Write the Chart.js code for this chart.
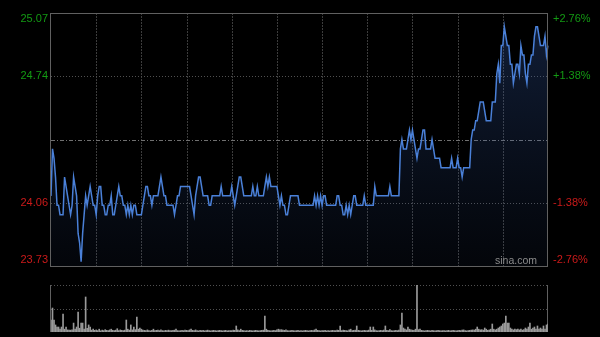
<!DOCTYPE html>
<html>
<head>
<meta charset="utf-8">
<script src="https://cdn.jsdelivr.net/npm/chart.js@4.4.1/dist/chart.umd.min.js"></script>
<style>
html, body { margin: 0; padding: 0; background: #000; }
#wrap { position: relative; width: 600px; height: 337px; background: #000; overflow: hidden; }
#priceChart { position: absolute; left: 0; top: 0; }
#volChart { position: absolute; left: 0; top: 275px; }
</style>
</head>
<body>
<div id="wrap">
  <canvas id="priceChart" width="600" height="275"></canvas>
  <canvas id="volChart" width="600" height="62"></canvas>
</div>
<script>
// HK intraday, previous close and +/- band shown on the axes
var prevClose = 24.40
var band = 0.0276

// trading sessions: first minute label, number of minutes
var sessions = [['09:30', 151], ['13:01', 180]]

// minute prices, morning 09:30-12:00
var priceAM = [
  24.10, 24.35, 24.30, 24.20, 24.05, 24.05, 24.00, 24.00, 24.00, 24.20,
  24.15, 24.10, 24.05, 24.00, 24.05, 24.20, 24.15, 24.10, 23.90, 23.85,
  23.75, 23.90, 24.00, 24.10, 24.05, 24.10, 24.15, 24.10, 24.05, 24.05,
  24.00, 24.10, 24.15, 24.15, 24.05, 24.05, 24.00, 24.00, 24.05, 24.05,
  24.10, 24.00, 24.00, 24.05, 24.10, 24.15, 24.10, 24.10, 24.05, 24.05,
  24.00, 24.05, 24.00, 24.05, 24.00, 24.05, 24.05, 24.00, 24.00, 24.00,
  24.00, 24.05, 24.10, 24.15, 24.15, 24.10, 24.10, 24.05, 24.10, 24.10,
  24.10, 24.10, 24.15, 24.20, 24.15, 24.10, 24.10, 24.05, 24.05, 24.05,
  24.05, 24.05, 24.00, 24.05, 24.10, 24.10, 24.15, 24.15, 24.15, 24.15,
  24.15, 24.15, 24.15, 24.10, 24.05, 24.00, 24.10, 24.15, 24.20, 24.20,
  24.15, 24.10, 24.10, 24.10, 24.10, 24.05, 24.05, 24.10, 24.10, 24.10,
  24.10, 24.10, 24.10, 24.15, 24.10, 24.10, 24.10, 24.10, 24.10, 24.10,
  24.15, 24.10, 24.05, 24.10, 24.15, 24.20, 24.20, 24.15, 24.10, 24.10,
  24.10, 24.10, 24.10, 24.10, 24.15, 24.10, 24.10, 24.15, 24.10, 24.10,
  24.10, 24.10, 24.15, 24.20, 24.15, 24.20, 24.15, 24.15, 24.15, 24.15,
  24.15
]

// minute prices, afternoon 13:01-16:00
var pricePM = [
  24.10, 24.05, 24.10, 24.05, 24.05, 24.00, 24.00, 24.05, 24.10, 24.10,
  24.10, 24.10, 24.10, 24.10, 24.05, 24.05, 24.05, 24.05, 24.05, 24.05,
  24.05, 24.05, 24.05, 24.05, 24.10, 24.05, 24.10, 24.05, 24.10, 24.05,
  24.10, 24.10, 24.05, 24.05, 24.05, 24.05, 24.05, 24.05, 24.05, 24.10,
  24.10, 24.05, 24.05, 24.00, 24.00, 24.05, 24.00, 24.05, 24.00, 24.05,
  24.10, 24.10, 24.05, 24.05, 24.05, 24.05, 24.05, 24.10, 24.05, 24.05,
  24.05, 24.05, 24.05, 24.05, 24.15, 24.10, 24.10, 24.10, 24.10, 24.10,
  24.10, 24.10, 24.10, 24.10, 24.15, 24.10, 24.10, 24.10, 24.10, 24.10,
  24.10, 24.35, 24.40, 24.35, 24.35, 24.35, 24.40, 24.45, 24.40, 24.45,
  24.40, 24.35, 24.30, 24.35, 24.35, 24.40, 24.45, 24.45, 24.35, 24.35,
  24.35, 24.35, 24.40, 24.35, 24.30, 24.30, 24.30, 24.30, 24.25, 24.25,
  24.25, 24.25, 24.25, 24.25, 24.25, 24.30, 24.25, 24.25, 24.25, 24.30,
  24.25, 24.25, 24.20, 24.25, 24.25, 24.25, 24.25, 24.25, 24.40, 24.45,
  24.45, 24.50, 24.50, 24.55, 24.60, 24.60, 24.60, 24.55, 24.50, 24.50,
  24.50, 24.50, 24.60, 24.60, 24.60, 24.75, 24.80, 24.70, 24.90, 24.90,
  25.00, 24.95, 24.90, 24.90, 24.80, 24.80, 24.70, 24.75, 24.80, 24.80,
  24.75, 24.90, 24.85, 24.85, 24.75, 24.70, 24.80, 24.80, 24.85, 24.85,
  24.95, 25.00, 25.00, 24.95, 24.90, 24.90, 24.90, 24.95, 24.85, 24.90
]

// minute volumes (relative units), morning
var volAM = [
  255, 510, 255, 150, 106, 106, 60, 106, 383, 60,
  106, 45, 40, 40, 45, 190, 60, 106, 425, 80,
  190, 190, 60, 745, 80, 150, 106, 40, 60, 35,
  45, 30, 60, 25, 40, 30, 50, 35, 30, 45,
  60, 35, 30, 40, 70, 30, 45, 35, 30, 40,
  255, 60, 40, 150, 45, 106, 50, 320, 60, 85,
  60, 40, 35, 30, 45, 30, 25, 35, 60, 30,
  35, 40, 30, 45, 30, 25, 35, 30, 40, 30,
  30, 35, 40, 60, 30, 25, 30, 35, 30, 40,
  35, 30, 45, 60, 35, 30, 45, 30, 25, 35,
  30, 35, 25, 30, 40, 30, 25, 30, 35, 30,
  25, 30, 35, 30, 25, 30, 35, 25, 30, 30,
  30, 40, 35, 128, 45, 30, 60, 35, 30, 25,
  30, 25, 35, 30, 25, 30, 35, 30, 25, 30,
  35, 40, 340, 60, 35, 30, 25, 30, 35, 30,
  45
]

// minute volumes, afternoon
var volPM = [
  60, 45, 50, 40, 35, 45, 30, 25, 30, 35,
  30, 25, 30, 35, 25, 30, 25, 30, 35, 30,
  25, 30, 35, 30, 45, 60, 35, 30, 25, 30,
  30, 35, 25, 30, 25, 30, 35, 30, 30, 40,
  35, 128, 30, 40, 35, 30, 25, 45, 60, 30,
  35, 40, 128, 35, 30, 25, 30, 35, 30, 30,
  40, 106, 35, 106, 45, 30, 25, 30, 35, 30,
  40, 128, 35, 30, 50, 30, 25, 30, 35, 30,
  40, 150, 404, 85, 60, 45, 106, 60, 45, 40,
  35, 60, 1000, 50, 60, 35, 30, 25, 30, 35,
  30, 25, 35, 30, 25, 30, 35, 30, 25, 30,
  30, 25, 30, 35, 25, 30, 35, 30, 25, 30,
  35, 30, 40, 45, 30, 25, 30, 35, 40, 45,
  40, 60, 106, 60, 45, 50, 40, 85, 60, 35,
  45, 60, 170, 60, 45, 60, 85, 106, 128, 170,
  190, 340, 190, 190, 85, 60, 45, 60, 50, 60,
  45, 60, 40, 50, 85, 60, 106, 190, 60, 85,
  106, 60, 128, 60, 85, 60, 128, 60, 150, 170
]

var prices = priceAM.concat(pricePM)
var volumes = volAM.concat(volPM)
var times = makeTimes()

var yMax = prevClose * (1 + band)
var yMin = prevClose * (1 - band)
var levels = [yMax, prevClose * (1 + band / 2), prevClose, prevClose * (1 - band / 2), yMin]

function makeTimes() {
    var out = []
    sessions.forEach(function (s) {
        var h = parseInt(s[0].slice(0, 2)), m = parseInt(s[0].slice(3))
        for (var k = 0; k < s[1]; k++) {
            out.push((h < 10 ? '0' : '') + h + ':' + (m < 10 ? '0' : '') + m)
            m++
            if (m == 60) { m = 0; h++ }
        }
    })
    return out
}

function hline(ctx, x1, x2, y) {
    ctx.beginPath(); ctx.moveTo(x1, y); ctx.lineTo(x2, y); ctx.stroke()
}
function vline(ctx, x, y1, y2) {
    ctx.beginPath(); ctx.moveTo(x, y1); ctx.lineTo(x, y2); ctx.stroke()
}

var priceFrame = {
    id: 'priceFrame',
    beforeDatasetsDraw: function (chart) {
        var ctx = chart.ctx, a = chart.chartArea, xs = chart.scales.x, ys = chart.scales.y
        ctx.save()
        ctx.lineWidth = 1
        // half-hour lines
        ctx.strokeStyle = '#3c3c3c'
        ctx.setLineDash([2, 1])
        for (var i = 30; i < times.length - 1; i += 30) {
            var x = Math.round(xs.getPixelForValue(i)) + 0.5
            vline(ctx, x, a.top, a.bottom)
        }
        // price levels
        for (var k = 1; k < levels.length - 1; k++) {
            var y = Math.round(ys.getPixelForValue(levels[k])) + 0.5
            if (k == 2) {
                ctx.strokeStyle = '#707070'
                ctx.setLineDash([4, 2, 1, 2])
            } else {
                ctx.strokeStyle = '#505050'
                ctx.setLineDash([1, 2])
            }
            hline(ctx, a.left, a.right, y)
        }
        ctx.restore()
    },
    afterDraw: function (chart) {
        var ctx = chart.ctx, a = chart.chartArea, ys = chart.scales.y
        ctx.save()
        ctx.strokeStyle = '#606060'
        ctx.lineWidth = 1
        ctx.setLineDash([])
        ctx.strokeRect(a.left - 0.5, a.top + 0.5, a.right - a.left, a.bottom - a.top)

        ctx.font = '11px "Liberation Sans", Arial, sans-serif'
        ctx.textBaseline = 'middle'
        levels.forEach(function (v, k) {
            if (k == 2) return
            var y = ys.getPixelForValue(v)
            if (k == 0) y = a.top + 6
            if (k == levels.length - 1) y = a.bottom - 6
            ctx.fillStyle = v > prevClose ? '#139a13' : '#cc1a1a'
            ctx.textAlign = 'right'
            ctx.fillText(v.toFixed(2), a.left - 3, y)
            var pct = (v / prevClose - 1) * 100
            ctx.textAlign = 'left'
            ctx.fillText((pct > 0 ? '+' : '') + pct.toFixed(2) + '%', a.right + 5, y)
        })

        ctx.fillStyle = '#8c8c8c'
        ctx.font = '10.5px "Liberation Sans", Arial, sans-serif'
        ctx.textAlign = 'right'
        ctx.textBaseline = 'alphabetic'
        ctx.fillText('sina.com', a.right - 11, a.bottom - 2)
        ctx.restore()
    }
}

var volFrame = {
    id: 'volFrame',
    beforeDatasetsDraw: function (chart) {
        var ctx = chart.ctx, a = chart.chartArea
        ctx.save()
        ctx.lineWidth = 1
        ctx.strokeStyle = '#505050'
        ctx.setLineDash([1, 2])
        hline(ctx, a.left, a.right, a.top + 0.5)
        hline(ctx, a.left, a.right, Math.round((a.top + a.bottom) / 2) + 0.5)
        ctx.setLineDash([])
        ctx.strokeStyle = '#606060'
        vline(ctx, a.left - 0.5, a.top, a.bottom)
        vline(ctx, a.right - 0.5, a.top, a.bottom)
        ctx.restore()
    }
}

var priceCtx = document.getElementById('priceChart').getContext('2d')
new Chart(priceCtx, {
    type: 'line',
    data: {
        labels: times,
        datasets: [{
            data: prices,
            borderColor: '#4a80d8',
            borderWidth: 1.5,
            pointRadius: 0,
            tension: 0,
            fill: 'start',
            backgroundColor: function (c) {
                var a = c.chart.chartArea
                if (!a) return 'rgba(40,70,130,0.2)'
                var g = c.chart.ctx.createLinearGradient(0, a.top, 0, a.bottom)
                g.addColorStop(0, 'rgba(55,95,175,0.32)')
                g.addColorStop(1, 'rgba(40,70,130,0.08)')
                return g
            }
        }]
    },
    options: {
        responsive: false,
        animation: false,
        layout: { padding: { left: 51, right: 52, top: 13, bottom: 9 } },
        plugins: { legend: { display: false }, tooltip: { enabled: false } },
        scales: {
            x: { display: false, offset: false },
            y: { display: false, min: yMin, max: yMax }
        }
    },
    plugins: [priceFrame]
})

var volCtx = document.getElementById('volChart').getContext('2d')
new Chart(volCtx, {
    type: 'bar',
    data: {
        labels: times,
        datasets: [{
            data: volumes,
            backgroundColor: '#9a9a9a',
            barThickness: 1,
            borderWidth: 0
        }]
    },
    options: {
        responsive: false,
        animation: false,
        layout: { padding: { left: 51, right: 52, top: 10, bottom: 5 } },
        plugins: { legend: { display: false }, tooltip: { enabled: false } },
        scales: {
            x: { display: false, offset: false },
            y: { display: false, min: 0, max: Math.max.apply(null, volumes) }
        }
    },
    plugins: [volFrame]
})
</script>
</body>
</html>
